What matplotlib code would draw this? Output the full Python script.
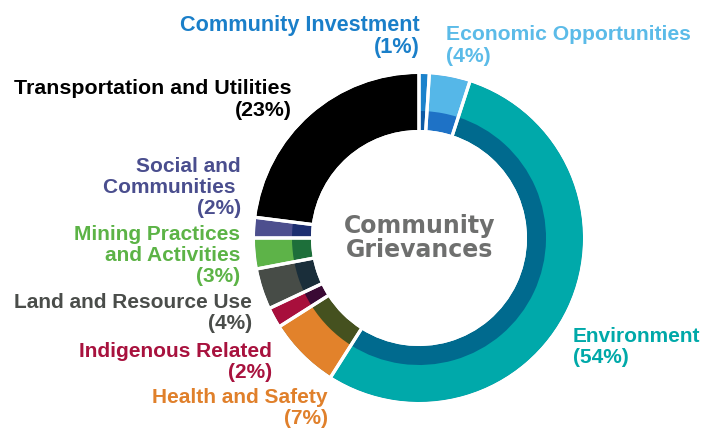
import matplotlib
matplotlib.use("Agg")
import matplotlib.pyplot as plt

# ---- data ----
categories = ["Community Investment", "Economic Opportunities", "Environment",
              "Health and Safety", "Indigenous Related", "Land and Resource Use",
              "Mining Practices and Activities", "Social and Communities",
              "Transportation and Utilities"]
values = [1, 4, 54, 7, 2, 4, 3, 2, 23]
outer_colors = ["#1a82cb", "#55b7e8", "#00a9aa", "#e2822b", "#a80f3c",
                "#474c47", "#5db348", "#4d4f8e", "#000000"]
inner_colors = ["#0c5aa6", "#1e72c6", "#006a8e", "#45511f", "#3a0a34",
                "#1a2e3a", "#1d6f3a", "#1d2f70", "#000000"]
label_colors = ["#1a7fc9", "#5bbbe8", "#00a9a9", "#e0802b", "#a8123e",
                "#4a4d4a", "#5cb346", "#4a4e8e", "#000000"]
label_lines = [["Community Investment", "(1%)"],
               ["Economic Opportunities", "(4%)"],
               ["Environment", "(54%)"],
               ["Health and Safety", "(7%)"],
               ["Indigenous Related", "(2%)"],
               ["Land and Resource Use", "(4%)"],
               ["Mining Practices", "and Activities", "(3%)"],
               ["Social and", "Communities ", "(2%)"],
               ["Transportation and Utilities", "(23%)"]]
center_title = "Community\nGrievances"

# ---- layout (pixel coordinates, y from top) ----
W, H = 705, 428
cx, cy = 419, 238
R, r_mid, r_in = 164, 127, 108
font = "Liberation Sans"

fig = plt.figure(figsize=(W / 100, H / 100), dpi=100)
ax = fig.add_axes([0, 0, 1, 1])

center = (cx, H - cy)
ax.pie(values, radius=R, center=center, startangle=90, counterclock=False,
       colors=inner_colors, wedgeprops=dict(width=R - r_in, edgecolor="none", linewidth=0))
ax.pie(values, radius=R, center=center, startangle=90, counterclock=False,
       colors=outer_colors, wedgeprops=dict(width=R - r_mid, edgecolor="none", linewidth=0))
lw_px = 3.2
ax.pie(values, radius=R + lw_px / 2, center=center, startangle=90, counterclock=False,
       colors=["none"] * len(values),
       wedgeprops=dict(width=R - r_in + lw_px, edgecolor="white", linewidth=lw_px * 0.72,
                       fill=False))
ax.set_xlim(0, W)
ax.set_ylim(0, H)
ax.set_aspect("equal")
ax.axis("off")

# label placement: (x, ha, baselines, fontsize)
placements = [
    (420, "right", [31, 53], 15.6),
    (446, "left", [40, 62], 15.2),
    (573, "left", [342, 363], 15),
    (328, "right", [403, 424], 15),
    (272, "right", [357, 378], 15),
    (252, "right", [308, 329], 15),
    (240, "right", [240, 261, 282], 15),
    (241, "right", [172, 193, 214], 15),
    (292, "right", [94, 116], 15.4),
]
for lines, col, (x, ha, ys, fs) in zip(label_lines, label_colors, placements):
    for line, y in zip(lines, ys):
        ax.text(x, H - y, line, ha=ha, va="baseline", color=col,
                fontsize=fs, fontweight="bold", family=font)

ax.text(cx + 1, H - cy, center_title, ha="center", va="center", color="#6e6f6e",
        fontsize=17, fontweight="bold", family="DejaVu Sans", linespacing=1.05)

fig.savefig("out.png", dpi=100)
